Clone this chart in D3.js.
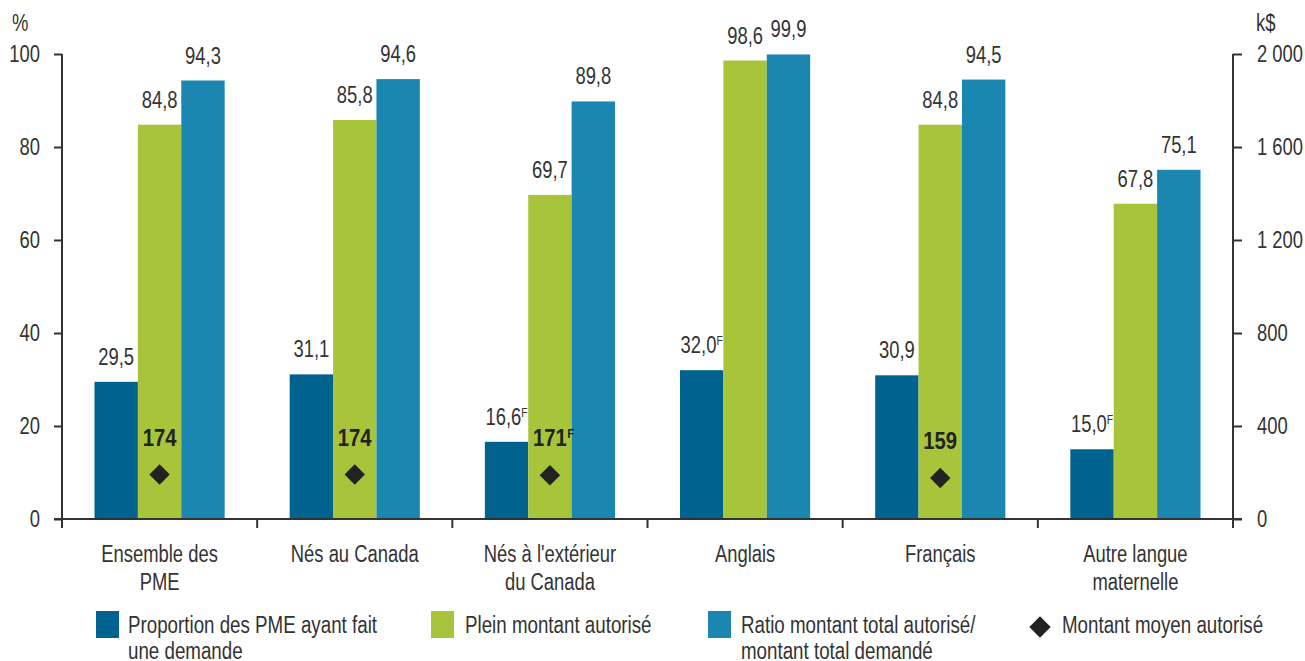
<!DOCTYPE html>
<html lang="fr">
<head>
<meta charset="utf-8">
<script src="https://cdn.jsdelivr.net/npm/d3@7/dist/d3.min.js"></script>
<style>
  html, body { margin: 0; padding: 0; background: #fff; }
  svg text { font-family: "Liberation Sans", Arial, sans-serif; fill: #333; }
</style>
</head>
<body>
<svg id="chart" width="1305" height="661"></svg>
<script>
// Catégories (libellés sur plusieurs lignes)
const categories = [
  ["Ensemble des", "PME"],
  ["Nés au Canada"],
  ["Nés à l'extérieur", "du Canada"],
  ["Anglais"],
  ["Français"],
  ["Autre langue", "maternelle"]
];

// Séries en pourcentage (axe de gauche)
const seriesNames = [
  ["Proportion des PME ayant fait", "une demande"],
  ["Plein montant autorisé"],
  ["Ratio montant total autorisé/", "montant total demandé"]
];
const proportionDemande = [29.5, 31.1, 16.6, 32.0, 30.9, 15.0];
const proportionFlags   = [false, false, true, true, false, true];
const pleinMontant      = [84.8, 85.8, 69.7, 98.6, 84.8, 67.8];
const ratioMontant      = [94.3, 94.6, 89.8, 99.9, 94.5, 75.1];

// Montant moyen autorisé en k$ (axe de droite); null = non publié
const avgName           = ["Montant moyen autorisé"];
const montantMoyen      = [174, 174, 171, null, 159, null];
const montantFlags      = [false, false, true, false, false, false];

// Graduations
const leftTicks  = [0, 20, 40, 60, 80, 100];
const rightTicks = [0, 400, 800, 1200, 1600, 2000];

const colors = ["#00638f", "#a7c43b", "#1b86b0"];

const svg = d3.select("#chart");
const plotLeft = 62, plotRight = 1233, plotTop = 54, plotBottom = 519;

// Police étroite simulée : compression horizontale des textes
const COND = 0.8, COND_BOLD = 0.88, COND_LEGEND = 0.815;

const x0 = d3.scaleBand().domain(d3.range(categories.length)).range([plotLeft, plotRight]).padding(0);
const x1 = d3.scaleBand().domain(d3.range(3)).range([32.5, x0.bandwidth() - 32.5]).padding(0);
const yL = d3.scaleLinear().domain([0, 100]).range([plotBottom, plotTop]);
const yR = d3.scaleLinear().domain([0, 2000]).range([plotBottom, plotTop]);

const fmt1 = v => d3.format(".1f")(v).replace(".", ",");
const fmtK = v => d3.format(",")(v).replace(/,/g, "\u00a0");

const seriesValues = [proportionDemande, pleinMontant, ratioMontant];
const seriesFlags = [proportionFlags, null, null];

function condense(node, factor) {
  const kids = node.querySelectorAll("tspan");
  const targets = kids.length ? Array.from(kids) : [node];
  targets.forEach(t => {
    const len = t.getComputedTextLength();
    if (len > 0) {
      t.setAttribute("textLength", (len * factor).toFixed(2));
      t.setAttribute("lengthAdjust", "spacingAndGlyphs");
    }
  });
}

// Barres
const groups = svg.append("g").selectAll("g")
  .data(categories.map((c, i) => i))
  .join("g")
  .attr("transform", i => `translate(${x0(i)},0)`);

seriesValues.forEach((vals, s) => {
  groups.append("rect")
    .attr("x", x1(s))
    .attr("width", x1.bandwidth())
    .attr("y", i => yL(vals[i]))
    .attr("height", i => plotBottom - yL(vals[i]))
    .attr("fill", colors[s]);
});

// Étiquettes de valeur
seriesValues.forEach((vals, s) => {
  const t = groups.append("text")
    .attr("x", x1(s) + x1.bandwidth() / 2)
    .attr("y", i => yL(vals[i]) - 17)
    .attr("text-anchor", "middle")
    .style("font-size", "23px");
  t.append("tspan").text(i => fmt1(vals[i]));
  t.filter(i => seriesFlags[s] && seriesFlags[s][i])
    .append("tspan")
    .attr("dy", -8)
    .style("font-size", "13px")
    .text("F");
  t.each(function () { condense(this, COND); });
});

// Montant moyen autorisé (losanges, axe de droite)
const withAvg = groups.filter(i => montantMoyen[i] != null);
const cxAvg = x1(1) + x1.bandwidth() / 2;
withAvg.append("path")
  .attr("d", d3.symbol().type(d3.symbolDiamond2).size(265))
  .attr("transform", i => `translate(${cxAvg},${yR(montantMoyen[i]) - 4})`)
  .attr("fill", "#222");
withAvg.each(function (i) {
  const g = d3.select(this);
  const y = yR(montantMoyen[i]) - 4 - 29;
  const t = g.append("text")
    .attr("x", cxAvg)
    .attr("y", y)
    .attr("text-anchor", "middle")
    .style("font-size", "23px")
    .style("font-weight", "bold")
    .style("fill", "#222")
    .text(montantMoyen[i]);
  const w = t.node().getComputedTextLength() * COND_BOLD;
  condense(t.node(), COND_BOLD);
  if (montantFlags[i]) {
    const f = g.append("text")
      .attr("x", cxAvg + w / 2 + 0.5)
      .attr("y", y - 8)
      .style("font-size", "13px")
      .style("font-weight", "bold")
      .style("fill", "#222")
      .text("F");
    condense(f.node(), COND_BOLD);
  }
});

// Axe horizontal
const axisColor = "#333";
svg.append("line")
  .attr("x1", plotLeft - 8).attr("x2", plotRight + 9)
  .attr("y1", plotBottom).attr("y2", plotBottom)
  .attr("stroke", axisColor).attr("stroke-width", 2);
svg.append("g").selectAll("line")
  .data(d3.range(1, categories.length))
  .join("line")
  .attr("x1", i => x0(i)).attr("x2", i => x0(i))
  .attr("y1", plotBottom).attr("y2", plotBottom + 9)
  .attr("stroke", axisColor).attr("stroke-width", 2);

// Libellés des catégories
const catLabels = svg.append("g").selectAll("text")
  .data(categories)
  .join("text")
  .attr("text-anchor", "middle")
  .attr("x", (d, i) => x0(i) + x0.bandwidth() / 2)
  .attr("y", 562)
  .style("font-size", "23px");
catLabels.selectAll("tspan")
  .data(d => d)
  .join("tspan")
  .attr("x", function () { return this.parentNode.getAttribute("x"); })
  .attr("dy", (d, j) => j === 0 ? 0 : 28)
  .text(d => d);
catLabels.each(function () { condense(this, COND); });

// Axe de gauche
const axL = svg.append("g")
  .attr("transform", `translate(${plotLeft},0)`)
  .call(d3.axisLeft(yL).tickValues(leftTicks).tickSize(8).tickPadding(14).tickSizeOuter(0));
axL.select(".domain").attr("d", `M0,${plotTop}V${plotBottom + 9}`);

// Axe de droite
const axR = svg.append("g")
  .attr("transform", `translate(${plotRight},0)`)
  .call(d3.axisRight(yR).tickValues(rightTicks).tickFormat(fmtK).tickSize(9).tickPadding(15).tickSizeOuter(0));
axR.select(".domain").attr("d", `M0,${plotTop}V${plotBottom + 9}`);

[axL, axR].forEach(ax => {
  ax.select(".domain").attr("stroke", axisColor).attr("stroke-width", 2);
  ax.selectAll(".tick line").attr("stroke", axisColor).attr("stroke-width", 2);
  ax.selectAll(".tick text")
    .style("font-family", '"Liberation Sans", Arial, sans-serif')
    .style("font-size", "23px")
    .attr("fill", "#333")
    .each(function () { condense(this, COND); });
});

// Unités
[["%", 12], ["k$", 1256]].forEach(([u, x]) => {
  const t = svg.append("text").attr("x", x).attr("y", 31).style("font-size", "23px").text(u);
  condense(t.node(), COND);
});

// Légende
const legend = [
  { type: "rect", color: colors[0], x: 96, tx: 128, lines: seriesNames[0] },
  { type: "rect", color: colors[1], x: 431, tx: 465, lines: seriesNames[1] },
  { type: "rect", color: colors[2], x: 708, tx: 741, lines: seriesNames[2] },
  { type: "diamond", color: "#222", x: 1028, tx: 1062, lines: avgName }
];
const lg = svg.append("g").selectAll("g").data(legend).join("g");
lg.filter(d => d.type === "rect").append("rect")
  .attr("x", d => d.x).attr("y", 611)
  .attr("width", 23).attr("height", 27)
  .attr("fill", d => d.color);
lg.filter(d => d.type === "diamond").append("path")
  .attr("d", d3.symbol().type(d3.symbolDiamond2).size(290))
  .attr("transform", d => `translate(${d.x + 12},627)`)
  .attr("fill", d => d.color);
const lt = lg.append("text")
  .attr("x", d => d.tx)
  .attr("y", 633)
  .style("font-size", "23px");
lt.selectAll("tspan")
  .data(d => d.lines.map(l => ({ l, x: d.tx })))
  .join("tspan")
  .attr("x", d => d.x)
  .attr("dy", (d, j) => j === 0 ? 0 : 26)
  .text(d => d.l);
lt.each(function () { condense(this, COND_LEGEND); });
</script>
</body>
</html>
